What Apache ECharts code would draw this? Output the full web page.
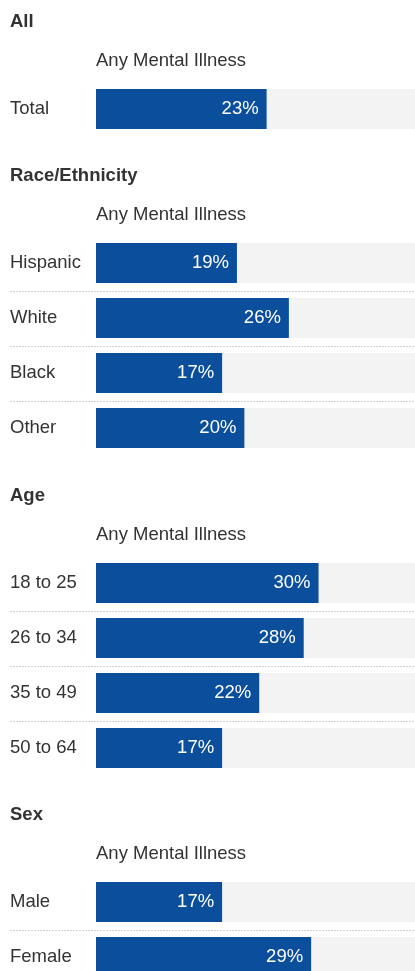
<!DOCTYPE html>
<html>
<head>
<meta charset="utf-8">
<script src="https://cdn.jsdelivr.net/npm/echarts@6/dist/echarts.min.js"></script>
<style>
  html, body { margin: 0; padding: 0; background: #fff; overflow: hidden; }
  /* the last section runs off the bottom of the 971px view */
  #main { width: 415px; height: 1000px; }
</style>
</head>
<body>
<div id="main"></div>
<script>
// section data
var sectionNames = ['All', 'Race/Ethnicity', 'Age', 'Sex'];
var measureName = 'Any Mental Illness';

var allCats = ['Total'];
var allVals = [23];
var raceCats = ['Hispanic', 'White', 'Black', 'Other'];
var raceVals = [19, 26, 17, 20];
var ageCats = ['18 to 25', '26 to 34', '35 to 49', '50 to 64'];
var ageVals = [30, 28, 22, 17];
var sexCats = ['Male', 'Female'];
var sexVals = [17, 29];

var groups = [[allCats, allVals], [raceCats, raceVals], [ageCats, ageVals], [sexCats, sexVals]];

// layout
var gridTops = [81.5, 235.5, 555.5, 874.5];
var rowH = 55;
var fontFam = '"Liberation Sans", Arial, sans-serif';
var barColor = '#0b4f9c';

var myChart = echarts.init(document.getElementById('main'));

var grids = [], xAxes = [], yAxes = [], series = [], graphics = [];

groups.forEach(function (g, i) {
    var cats = g[0], vals = g[1];
    grids.push({ left: 96, right: 0, top: gridTops[i], height: rowH * cats.length });
    xAxes.push({
        type: 'value', gridIndex: i, min: 0, max: 43,
        show: false
    });
    yAxes.push({
        type: 'category', gridIndex: i, data: cats, inverse: true,
        axisLine: { show: false }, axisTick: { show: false }, splitLine: { show: false },
        axisLabel: { align: 'left', margin: 86, fontSize: 18.5, color: '#333', fontFamily: fontFam }
    });
    series.push({
        type: 'bar', xAxisIndex: i, yAxisIndex: i, data: vals, barWidth: 40,
        itemStyle: { color: barColor },
        showBackground: true,
        backgroundStyle: { color: '#f3f3f3' },
        label: {
            show: true, position: 'insideRight', distance: 8,
            formatter: '{c}%', color: '#fff', fontSize: 18.5, fontFamily: fontFam
        },
        silent: true
    });
    // dotted separators between rows
    series.push({
        type: 'custom', xAxisIndex: i, yAxisIndex: i, clip: false, silent: true,
        data: cats.map(function (c, k) { return [0, k]; }),
        encode: { x: 0, y: 1 },
        renderItem: function (params, api) {
            var idx = api.value(1);
            if (idx >= cats.length - 1) return null;
            var c = api.coord([0, idx]);
            var h = api.size([0, 1])[1];
            var y = Math.round(c[1] + h / 2) + 0.5;
            return {
                type: 'line',
                shape: { x1: 10, y1: y, x2: params.coordSys.x + params.coordSys.width, y2: y },
                style: { stroke: '#d2d2d2', lineWidth: 1, lineDash: [2, 1] }
            };
        }
    });
    graphics.push({
        type: 'text', left: 10, top: gridTops[i] - 69,
        style: { text: sectionNames[i], font: 'bold 18.5px ' + fontFam, fill: '#333' }
    });
    graphics.push({
        type: 'text', left: 96, top: gridTops[i] - 30,
        style: { text: measureName, font: '18.5px ' + fontFam, fill: '#333' }
    });
});

var option = {
    animation: false,
    grid: grids,
    xAxis: xAxes,
    yAxis: yAxes,
    series: series,
    graphic: graphics
};
myChart.setOption(option);
</script>
</body>
</html>
